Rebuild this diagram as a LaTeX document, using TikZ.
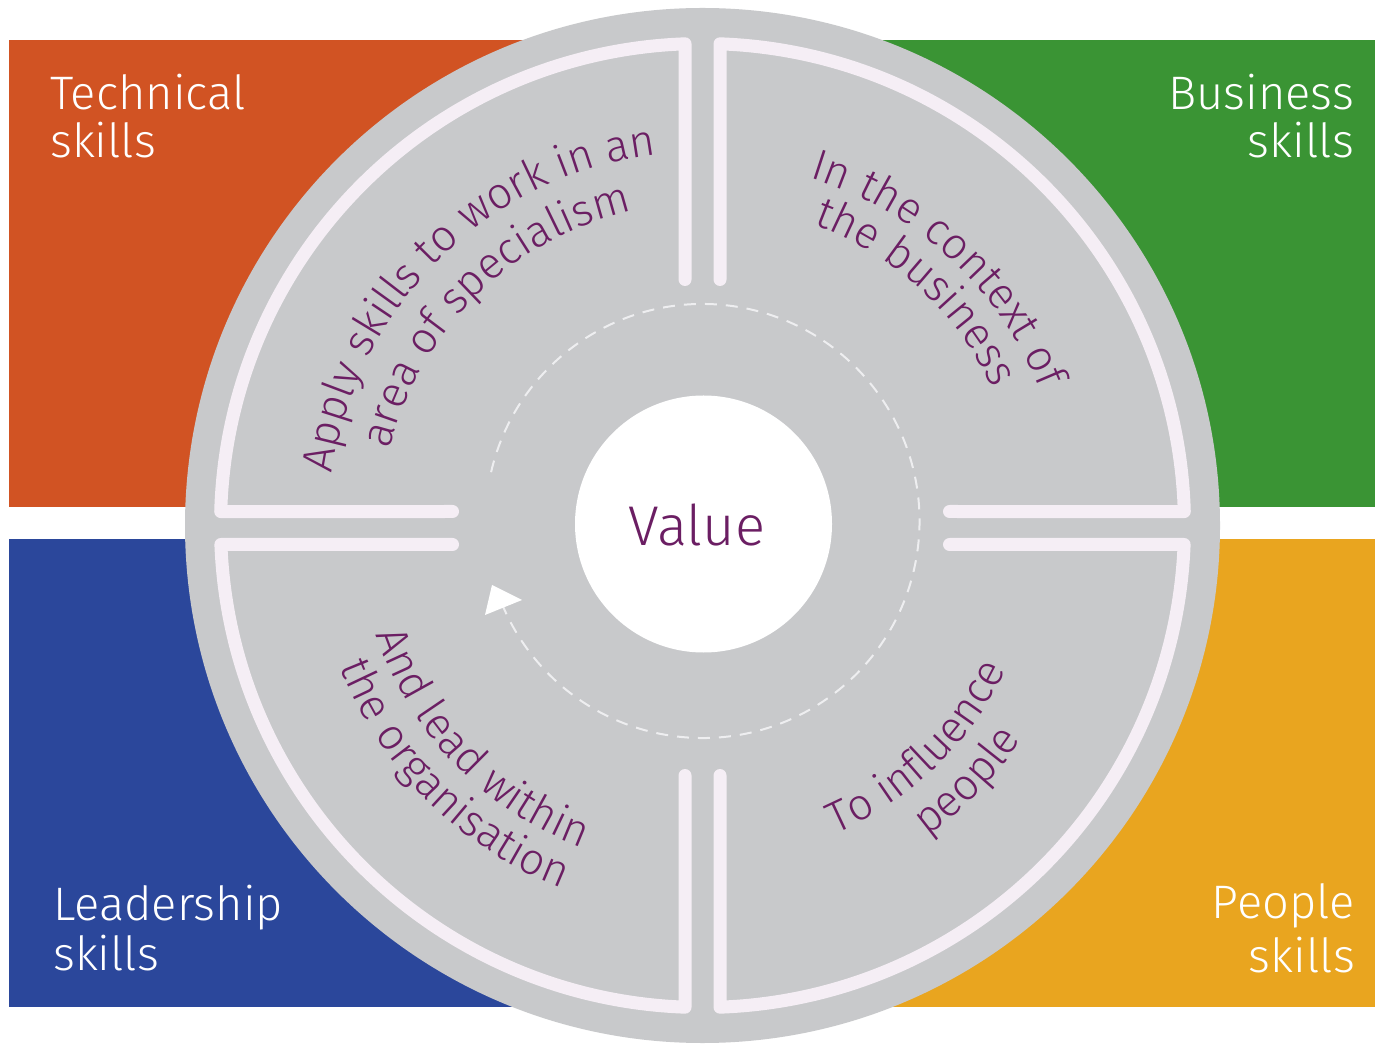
\documentclass[tikz,border=0pt]{standalone}
\usepackage{fontspec}
\setmainfont{Fira Sans Light}
\usetikzlibrary{decorations.text}
\definecolor{cOrange}{RGB}{209,83,35}
\definecolor{cGreen}{RGB}{58,148,52}
\definecolor{cBlue}{RGB}{43,71,155}
\definecolor{cYellow}{RGB}{233,165,31}
\definecolor{cGray}{RGB}{200,201,203}
\definecolor{cLine}{RGB}{245,238,245}
\definecolor{cPurple}{RGB}{107,30,99}
\definecolor{cDash}{RGB}{238,238,240}
\newcommand\qtxtfont{\fontsize{44}{44}\selectfont}
\begin{document}
\begin{tikzpicture}[x=1pt,y=1pt,
  corner/.style={text=white, font=\fontsize{47}{50}\selectfont, inner sep=0pt},
  sector/.style={draw=cLine, line width=13pt, line cap=round, line join=round},
  dashline/.style={draw=cDash, line width=2pt, dash pattern=on 12pt off 9pt},
  arctext/.style={decorate, decoration={text along path, text align=center, text color=cPurple}}]
\useasboundingbox (0,0) rectangle (1375,1045);
\fill[white] (0,0) rectangle (1375,1045);
% coloured quadrants
\fill[cOrange] (9,538) rectangle (702,1005);
\fill[cGreen] (702,538) rectangle (1375,1005);
\fill[cBlue] (9,38) rectangle (702,506);
\fill[cYellow] (702,38) rectangle (1375,506);
% corner labels
\node[corner, anchor=base west] (tech1) at (50,935) {Technical};
\node[corner, anchor=base west] (tech2) at (50,887) {skills};
\node[corner, anchor=base east] (bus1) at (1354,935) {Business};
\node[corner, anchor=base east] (bus2) at (1354,887) {skills};
\node[corner, anchor=base west] (lead1) at (53,125) {Leadership};
\node[corner, anchor=base west] (lead2) at (53,75) {skills};
\node[corner, anchor=base east] (peop1) at (1355,127) {People};
\node[corner, anchor=base east] (peop2) at (1355,73) {skills};
% big grey disc
\coordinate (C) at (702.5,519.5);
\fill[cGray] (C) circle[radius=517.5];
% sector outlines
\begin{scope}[shift={(C)}]
\draw[sector] (-250,14) -- (178.34:482) arc[start angle=178.34, end angle=92.08, radius=482] -- (-17.5,246);
\draw[sector] (17.5,246) -- (87.92:482) arc[start angle=87.92, end angle=1.66, radius=482] -- (247,14);
\draw[sector] (247,-19) -- (-2.26:482) arc[start angle=-2.26, end angle=-87.92, radius=482] -- (17.5,-250);
\draw[sector] (-17.5,-250) -- (-92.08:482) arc[start angle=-92.08, end angle=-177.74, radius=482] -- (-250,-19);
\end{scope}
% dashed cycle with arrow
\coordinate (D) at (702.5,524);
\draw[dashline] (D) ++(167:217) arc[start angle=167, end angle=-157, radius=217];
\fill[white] (492,460) -- (522,445) -- (485,430) -- cycle;
% centre
\node[circle, fill=white, minimum size=257pt, inner sep=0pt] (val) at (703.5,521) {};
\node[text=cPurple, font=\fontsize{56}{60}\selectfont, inner sep=0pt] (valtxt) at (697,520) {Value};
% curved texts
\path[arctext, decoration={text={|\qtxtfont|Apply skills to work in an}}] (C) ++(194.5:374) arc[start angle=194.5, end angle=74.5, radius=374];
\path[arctext, decoration={text={|\qtxtfont|area of specialism}}] (C) ++(194.5:322) arc[start angle=194.5, end angle=74.5, radius=322];
\path[arctext, decoration={text={|\qtxtfont|In the context of}}] (C) ++(107.5:364) arc[start angle=107.5, end angle=-12.5, radius=364];
\path[arctext, decoration={text={|\qtxtfont|the business}}] (C) ++(107.5:321) arc[start angle=107.5, end angle=-12.5, radius=321];
\path[arctext, decoration={text={|\qtxtfont|And lead within}}] (C) ++(164:344) arc[start angle=164, end angle=284, radius=344];
\path[arctext, decoration={text={|\qtxtfont|the organisation}}] (C) ++(165:389) arc[start angle=165, end angle=285, radius=389];
\path[arctext, decoration={text={|\qtxtfont|To influence}}] (C) ++(-106:336) arc[start angle=-106, end angle=14, radius=336];
\path[arctext, decoration={text={|\qtxtfont|people}}] (C) ++(-104:384) arc[start angle=-104, end angle=16, radius=384];
\end{tikzpicture}
\end{document}
